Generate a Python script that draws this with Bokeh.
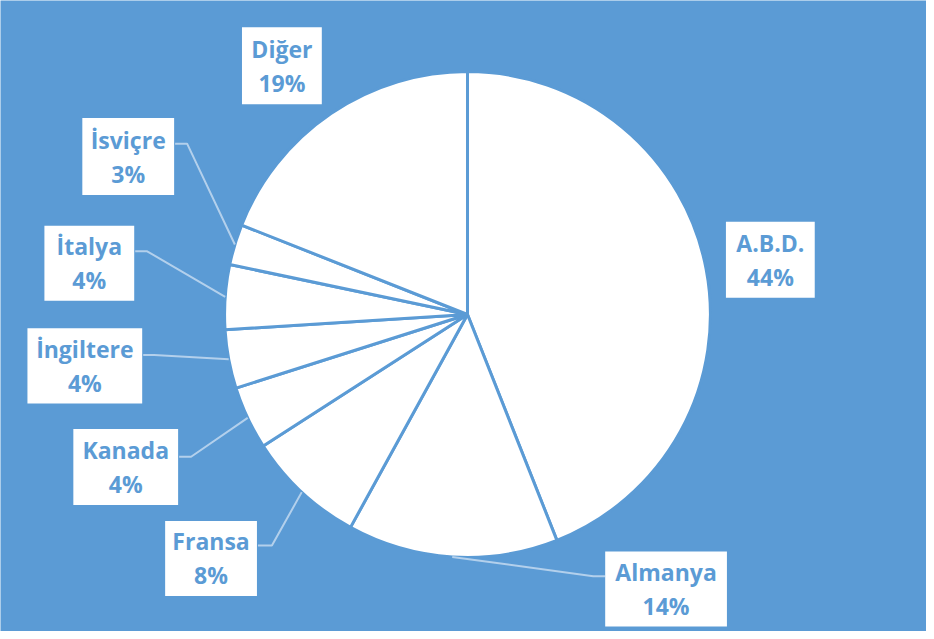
from bokeh.plotting import figure
from bokeh.models import Range1d, ColumnDataSource
from bokeh.embed import file_html
from bokeh.resources import INLINE
from bokeh.core.properties import value
import math

# ---- data ----
countries = ["A.B.D.", "Almanya", "Fransa", "Kanada", "İngiltere", "İtalya", "İsviçre", "Diğer"]
shares = [44.0, 14.0, 7.9, 4.2, 3.9, 4.3, 2.7, 19.0]

# ---- layout (pixel positions measured on the reference image) ----
W, H = 926, 631
BG = "#5B9BD5"
SX, SY = 926 / 928, 631 / 639
def X(sx): return (sx - 6) * SX
def Y(sy): return H - sy * SY
CX, CY, R = X(474), Y(318), 246 * SY

# label boxes: left, right, top, bottom
boxes = {
    "A.B.D.": (733, 822, 224, 301),
    "Almanya": (612, 734, 558, 634),
    "Fransa": (171, 263, 527, 603),
    "Kanada": (79, 184, 434, 511),
    "İngiltere": (33, 148, 332, 408),
    "İtalya": (50, 140, 228, 304),
    "İsviçre": (88, 180, 119, 197),
    "Diğer": (248, 328, 27, 105),
}
# leader lines: elbow point, end point at box
leaders = {
    "Almanya": ((600, 583), (612, 583)),
    "Fransa": ((278, 552), (264, 552)),
    "Kanada": ((197, 462), (185, 462)),
    "İngiltere": ((160, 359), (149, 359)),
    "İtalya": ((153, 254), (141, 254)),
    "İsviçre": ((193, 145), (181, 145)),
}

p = figure(width=W, height=H, x_range=Range1d(0, W), y_range=Range1d(0, H),
           output_backend="svg", toolbar_location=None,
           x_axis_location=None, y_axis_location=None, min_border=0,
           background_fill_color=BG, border_fill_color=BG, outline_line_color=None)
p.grid.visible = False

total = sum(shares)
starts, ends, mids = [], [], []
cum = 0.0
for v in shares:
    f0 = cum / total
    cum += v
    f1 = cum / total
    starts.append(math.pi / 2 - f0 * 2 * math.pi)
    ends.append(math.pi / 2 - f1 * 2 * math.pi)
    mids.append(math.pi / 2 - (f0 + f1) / 2 * 2 * math.pi)

src = ColumnDataSource(dict(x=[CX] * len(shares), y=[CY] * len(shares),
                            s=starts, e=ends))
p.wedge(x="x", y="y", radius=R, start_angle="s", end_angle="e", direction="clock",
        fill_color="white", line_color=BG, line_width=3, source=src)

# leader lines
for name, mid in zip(countries, mids):
    if name not in leaders:
        continue
    (ex, ey), (bx, by) = leaders[name]
    px = CX + R * math.cos(mid)
    py = CY + R * math.sin(mid)
    p.line([px, X(ex), X(bx)], [py, Y(ey), Y(by)], line_color="#B3D0EC", line_width=2)

# label boxes
lefts, rights, tops, bottoms, tx, ty1, ty2, names, pcts = [], [], [], [], [], [], [], [], []
for name, v in zip(countries, shares):
    l, r, t, b = boxes[name]
    lefts.append(X(l)); rights.append(X(r)); tops.append(Y(t)); bottoms.append(Y(b))
    cx = X((l + r) / 2)
    cy = Y((t + b) / 2)
    tx.append(cx); ty1.append(cy + 17); ty2.append(cy - 17)
    names.append(name)
    pcts.append(f"{round(v / total * 100)}%")

p.quad(left=lefts, right=rights, top=tops, bottom=bottoms,
       fill_color="white", line_color=None)
for ys, txt in ((ty1, names), (ty2, pcts)):
    p.text(x=tx, y=ys, text=txt, text_font=value("Open Sans"), text_font_style="bold",
           text_font_size="23px", text_color=BG, text_align="center",
           text_baseline="middle")

open("out.html", "w").write(file_html(p, INLINE))
